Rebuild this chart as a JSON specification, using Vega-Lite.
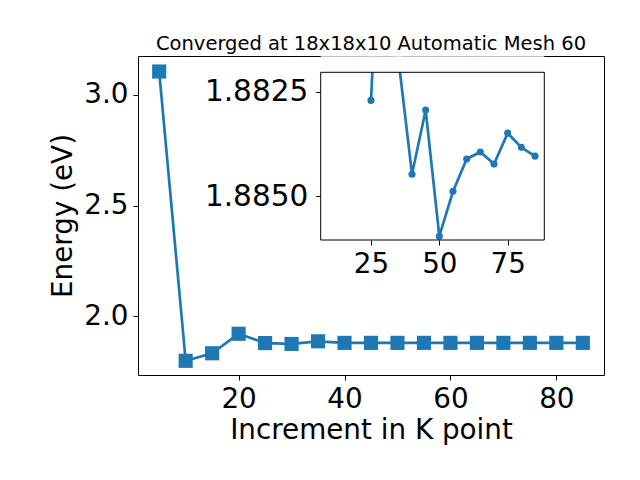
{
  "$schema": "https://vega.github.io/schema/vega-lite/v6.json",
  "width": 466,
  "height": 319,
  "autosize": {"type": "none"},
  "padding": {"left": 138, "top": 56, "right": 36, "bottom": 105},
  "background": "white",
  "config": {
    "view": {"stroke": "black", "strokeWidth": 1},
    "font": "DejaVu Sans",
    "axis": {
      "grid": false,
      "domain": false,
      "tickColor": "black",
      "tickSize": 5,
      "tickWidth": 1,
      "labelColor": "black",
      "labelFont": "DejaVu Sans",
      "labelFontSize": 27.8,
      "labelPadding": 5,
      "titleFont": "DejaVu Sans",
      "titleFontSize": 27.8,
      "titleFontWeight": "normal",
      "titleColor": "black"
    }
  },
  "title": {
    "text": "Converged at 18x18x10 Automatic Mesh 60",
    "font": "DejaVu Sans",
    "fontSize": 19.5,
    "fontWeight": "normal",
    "color": "black",
    "anchor": "middle",
    "frame": "group",
    "baseline": "alphabetic",
    "offset": -13
  },
  "datasets": {
    "main": [
      {"k": 5, "E": 3.105},
      {"k": 10, "E": 1.8},
      {"k": 15, "E": 1.834},
      {"k": 20, "E": 1.922},
      {"k": 25, "E": 1.88},
      {"k": 30, "E": 1.876},
      {"k": 35, "E": 1.888},
      {"k": 40, "E": 1.881},
      {"k": 45, "E": 1.881},
      {"k": 50, "E": 1.881},
      {"k": 55, "E": 1.881},
      {"k": 60, "E": 1.881},
      {"k": 65, "E": 1.881},
      {"k": 70, "E": 1.881},
      {"k": 75, "E": 1.881},
      {"k": 80, "E": 1.881},
      {"k": 85, "E": 1.881}
    ],
    "inset": [
      {"k": 25, "Ei": 1.88271},
      {"k": 30, "Ei": 1.876},
      {"k": 35, "Ei": 1.8817},
      {"k": 40, "Ei": 1.88447},
      {"k": 45, "Ei": 1.88294},
      {"k": 50, "Ei": 1.88595},
      {"k": 55, "Ei": 1.88488},
      {"k": 60, "Ei": 1.88411},
      {"k": 65, "Ei": 1.88394},
      {"k": 70, "Ei": 1.88423},
      {"k": 75, "Ei": 1.88349},
      {"k": 80, "Ei": 1.88383},
      {"k": 85, "Ei": 1.88404}
    ],
    "one": [{}]
  },
  "layer": [
    {
      "data": {"name": "main"},
      "encoding": {
        "x": {
          "field": "k",
          "type": "quantitative",
          "scale": {"domain": [1, 89], "nice": false, "zero": false},
          "axis": {"orient": "bottom", "values": [20, 40, 60, 80], "format": "d", "title": "Increment in K point", "titlePadding": 4}
        },
        "y": {
          "field": "E",
          "type": "quantitative",
          "scale": {"domain": [1.736, 3.175], "nice": false, "zero": false},
          "axis": {"orient": "left", "values": [2, 2.5, 3], "format": ".1f", "title": "Energy (eV)", "titlePadding": 6}
        }
      },
      "layer": [
        {"mark": {"type": "line", "color": "#1f77b4", "strokeWidth": 2.7}},
        {"mark": {"type": "point", "shape": "square", "filled": true, "size": 200, "color": "#1f77b4", "opacity": 1}}
      ]
    },
    {
      "layer": [
        {
          "data": {"name": "one"},
          "mark": {"type": "rect", "fill": "white", "stroke": null},
          "encoding": {
            "x": {"datum": 6.6, "type": "quantitative"},
            "x2": {"datum": 88.4},
            "y": {"datum": 1.88204, "type": "quantitative"},
            "y2": {"datum": 1.88604}
          }
        },
        {
          "data": {"name": "inset"},
          "mark": {"type": "line", "color": "#1f77b4", "strokeWidth": 2.7, "clip": true},
          "encoding": {
            "x": {
              "field": "k",
              "type": "quantitative",
              "scale": {"domain": [6.6, 88.4], "range": [182.7, 406.3], "nice": false, "zero": false},
              "axis": {"orient": "bottom", "offset": -135, "values": [25, 50, 75], "format": "d", "title": null}
            },
            "y": {
              "field": "Ei",
              "type": "quantitative",
              "scale": {"domain": [1.88204, 1.88604], "range": [16.3, 184], "nice": false, "zero": false},
              "axis": {"orient": "left", "offset": -182.7, "values": [1.8825, 1.885], "format": ".4f", "labelFontSize": 29.5, "labelPadding": 8, "title": null}
            }
          }
        },
        {
          "data": {"name": "inset"},
          "mark": {"type": "point", "shape": "circle", "filled": true, "size": 50, "color": "#1f77b4", "opacity": 1, "clip": true},
          "encoding": {
            "x": {"field": "k", "type": "quantitative"},
            "y": {"field": "Ei", "type": "quantitative"}
          }
        },
        {
          "data": {"name": "one"},
          "mark": {"type": "rect", "fill": "white", "stroke": null},
          "encoding": {
            "x": {"datum": 6.6, "type": "quantitative"},
            "x2": {"datum": 88.4},
            "y": {"datum": 1.88166, "type": "quantitative"},
            "y2": {"datum": 1.88204}
          }
        },
        {
          "data": {"name": "one"},
          "mark": {"type": "rect", "fill": null, "fillOpacity": 0, "stroke": "black", "strokeWidth": 1},
          "encoding": {
            "x": {"datum": 6.6, "type": "quantitative"},
            "x2": {"datum": 88.4},
            "y": {"datum": 1.88204, "type": "quantitative"},
            "y2": {"datum": 1.88604}
          }
        }
      ]
    }
  ],
  "resolve": {
    "scale": {"x": "independent", "y": "independent"},
    "axis": {"x": "independent", "y": "independent"}
  }
}
